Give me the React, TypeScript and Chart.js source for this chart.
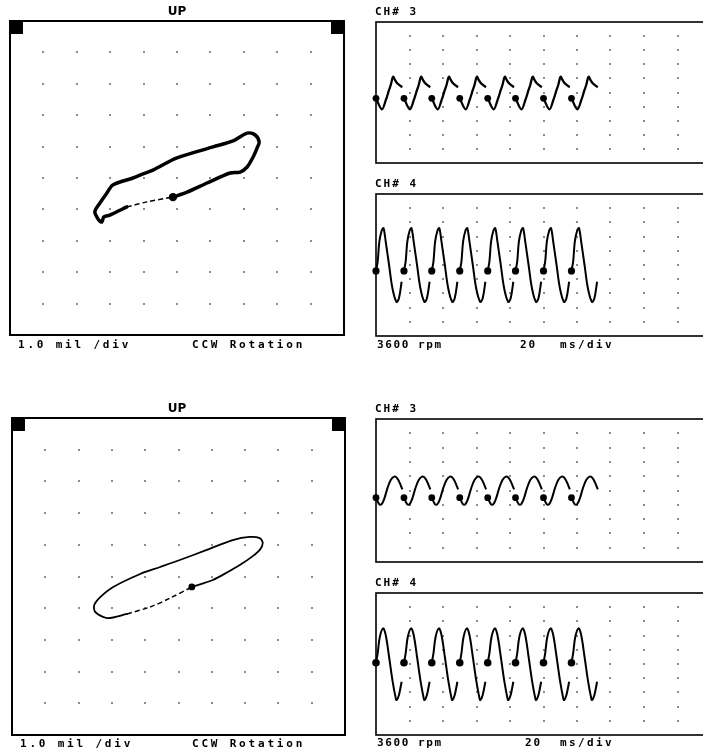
import React, { useEffect, useRef } from "react";
import { Chart, registerables } from "chart.js";

Chart.register(...registerables);

// ---- Acquisition setup ----
const SPEED_LABEL = "3600 rpm";
const TIMEBASE_LABEL = ["20", "ms/div"];
const ORBIT_SCALE_LABEL = "1.0 mil /div";
const ROTATION_LABEL = "CCW Rotation";
const PROBE_LABEL = "UP";
const CH_A_LABEL = "CH# 3";
const CH_B_LABEL = "CH# 4";

// Once-per-turn (keyphasor) marks, ms from trigger
const KEYPHASOR_MS = [0, 16.7, 33.3, 50.0, 66.7, 83.3, 100.0, 116.7];

// Graticule divisions
const ORBIT_GRID = [-4, -3, -2, -1, 0, 1, 2, 3, 4];
const AMP_GRID = [-4, -3, -2, -1, 0, 1, 2, 3, 4];
const TIME_GRID_MS = [20, 40, 60, 80, 100, 120, 140, 160, 180];

// ---- Upper set: orbit (mil), starting at the keyphasor, CCW ----
const ORBIT1_X = [-0.12, 0.3, 0.9, 1.59, 1.89, 2.1, 2.28, 2.4, 2.46, 2.34, 2.1, 1.68, 1.08, 0.0, -0.72, -1.02, -1.32, -1.92, -2.1, -2.31, -2.46, -2.34, -2.25, -2.19, -2.01, -1.5, -0.9, -0.3];
const ORBIT1_Y = [-0.61, -0.45, -0.16, 0.16, 0.19, 0.35, 0.67, 0.96, 1.15, 1.37, 1.43, 1.18, 0.99, 0.64, 0.25, 0.13, 0.0, -0.22, -0.48, -0.8, -1.08, -1.34, -1.4, -1.24, -1.18, -0.92, -0.76, -0.64];
const ORBIT1_BLANK_FROM = 25;

// Upper set: timebase, one revolution per keyphasor (ms after mark, divisions)
const WAVE1A_MS = [0, 3.5, 5.9, 7.8, 8.8, 10.2, 11.3, 12.7, 14.7, 15.7];
const WAVE1A_DIV = [-0.41, -1.19, -0.53, 0.18, 0.53, 1.12, 0.89, 0.65, 0.46, 0.37];
const WAVE1B_MS = [0, 1.0, 2.0, 3.5, 4.5, 5.8, 7.8, 9.8, 12.2, 13.7, 15.3];
const WAVE1B_DIV = [-0.42, 0.23, 1.64, 2.46, 2.6, 1.64, 0.0, -1.64, -2.6, -2.35, -1.18];

// ---- Lower set: orbit (mil) ----
const ORBIT2_X = [0.4, 1.03, 1.48, 1.84, 2.2, 2.44, 2.53, 2.44, 2.14, 1.63, 0.85, 0.04, -0.55, -1.15, -1.96, -2.35, -2.53, -2.5, -2.14, -1.54, -0.85, -0.25];
const ORBIT2_Y = [-0.33, -0.11, 0.14, 0.36, 0.62, 0.84, 1.06, 1.21, 1.25, 1.15, 0.84, 0.52, 0.3, 0.08, -0.33, -0.65, -0.9, -1.12, -1.31, -1.18, -0.96, -0.68];
const ORBIT2_BLANK_FROM = 19;

// Lower set: timebase
const WAVE2A_MS = [0, 2.0, 3.3, 5.0, 6.8, 8.8, 10.8, 12.7, 14.7, 15.7];
const WAVE2A_DIV = [-0.5, -0.97, -0.97, -0.55, 0.15, 0.73, 0.97, 0.85, 0.38, 0.08];
const WAVE2B_MS = [0, 1.0, 2.3, 4.3, 5.8, 7.8, 9.8, 11.8, 12.3, 13.7, 15.3];
const WAVE2B_DIV = [0.09, 0.75, 1.92, 2.51, 2.04, 0.51, -1.13, -2.42, -2.54, -2.18, -1.25];

type Pt = { x: number; y: number | null };
type Label = { text: string; x: number; y: number; align?: CanvasTextAlign; font?: string; spacing?: number };

const MONO = 'bold 11px "DejaVu Sans Mono"';

function orbitPaths(xs: number[], ys: number[], blankFrom: number) {
  const pts: Pt[] = xs.map((x, i) => ({ x, y: ys[i] }));
  const solid = pts.slice(0, blankFrom + 1);
  const blank = pts.slice(blankFrom).concat([pts[0]]);
  return { solid, blank, kp: [pts[0]] };
}

function traceFromRevs(revMs: number[], vals: number[]) {
  const line: Pt[] = [];
  const marks: Pt[] = [];
  KEYPHASOR_MS.forEach((t0) => {
    revMs.forEach((dt, i) => line.push({ x: t0 + dt, y: vals[i] }));
    line.push({ x: t0 + revMs[revMs.length - 1] + 0.2, y: null });
    marks.push({ x: t0, y: vals[0] });
  });
  return { line, marks };
}

function makeDecor(opts: {
  gridX: number[];
  gridY: number[];
  frameWidth: number;
  corner?: number;
  labels: Label[];
}) {
  return {
    id: "scopeDecor",
    beforeDatasetsDraw(chart: any) {
      const { ctx } = chart;
      const xs = chart.scales.x;
      const ys = chart.scales.y;
      ctx.save();
      ctx.fillStyle = "#333";
      for (const gx of opts.gridX) {
        for (const gy of opts.gridY) {
          const px = Math.round(xs.getPixelForValue(gx));
          const py = Math.round(ys.getPixelForValue(gy));
          ctx.fillRect(px - 0.75, py - 0.75, 1.5, 1.5);
        }
      }
      ctx.restore();
    },
    afterDatasetsDraw(chart: any) {
      const { ctx, chartArea: a } = chart;
      ctx.save();
      ctx.strokeStyle = "#000";
      ctx.lineWidth = opts.frameWidth;
      ctx.strokeRect(a.left, a.top, a.right - a.left, a.bottom - a.top);
      if (opts.corner) {
        const s = opts.corner;
        ctx.fillStyle = "#000";
        ctx.fillRect(a.left, a.top, s, s);
        ctx.fillRect(a.right - s, a.top, s, s);
      }
      ctx.restore();
    },
    afterDraw(chart: any) {
      const { ctx } = chart;
      ctx.save();
      ctx.fillStyle = "#000";
      ctx.textBaseline = "middle";
      for (const l of opts.labels) {
        ctx.font = l.font || MONO;
        (ctx as any).letterSpacing = (l.spacing ?? 2.8) + "px";
        ctx.textAlign = l.align || "left";
        ctx.fillText(l.text, l.x, l.y);
      }
      ctx.restore();
    },
  };
}

function baseOptions(padding: any, xr: [number, number], yr: [number, number]) {
  return {
    responsive: false,
    animation: false as const,
    devicePixelRatio: 1,
    layout: { padding },
    events: [],
    plugins: { legend: { display: false }, tooltip: { enabled: false }, title: { display: false } },
    scales: {
      x: { type: "linear" as const, min: xr[0], max: xr[1], display: false },
      y: { type: "linear" as const, min: yr[0], max: yr[1], display: false },
    },
  };
}

function orbitConfig(xs: number[], ys: number[], blankFrom: number, thick: number, kpR: number, padding: any, labels: Label[]) {
  const p = orbitPaths(xs, ys, blankFrom);
  return {
    type: "scatter" as const,
    data: {
      datasets: [
        { data: p.solid, showLine: true, borderColor: "#000", borderWidth: thick, pointRadius: 0, tension: 0.3, borderJoinStyle: "round", borderCapStyle: "round" },
        { data: p.blank, showLine: true, borderColor: "#000", borderWidth: 1.5, borderDash: [5, 3], pointRadius: 0, tension: 0.3 },
        { data: p.kp, showLine: false, pointRadius: kpR, pointBackgroundColor: "#000", pointBorderWidth: 0, clip: false },
      ],
    },
    options: baseOptions(padding, [-5, 5], [-5, 5]),
    plugins: [makeDecor({ gridX: ORBIT_GRID, gridY: ORBIT_GRID, frameWidth: 2, corner: 13, labels })],
  };
}

function waveConfig(revMs: number[], vals: number[], width: number, kpR: number, padding: any, labels: Label[]) {
  const t = traceFromRevs(revMs, vals);
  return {
    type: "line" as const,
    data: {
      datasets: [
        { data: t.line, borderColor: "#000", borderWidth: width, pointRadius: 0, tension: 0.35, spanGaps: false, borderJoinStyle: "round" },
        { data: t.marks, showLine: false, pointRadius: kpR, pointBackgroundColor: "#000", pointBorderWidth: 0, clip: false },
      ],
    },
    options: baseOptions(padding, [0, 200], [-5, 5]),
    plugins: [makeDecor({ gridX: TIME_GRID_MS, gridY: AMP_GRID, frameWidth: 1.6, labels })],
  };
}

function Panel({ left, top, width, height, make }: { left: number; top: number; width: number; height: number; make: () => any }) {
  const ref = useRef<HTMLCanvasElement>(null);
  useEffect(() => {
    const chart = new Chart(ref.current as HTMLCanvasElement, make());
    return () => chart.destroy();
  }, []);
  return (
    <canvas
      ref={ref}
      width={width}
      height={height}
      style={{ position: "absolute", left, top, width, height, display: "block" }}
    />
  );
}

const TITLE_FONT = 'bold 12px "DejaVu Sans"';

export default function App() {
  return (
    <div
      style={{
        position: "fixed",
        left: 0,
        top: 0,
        width: 703,
        height: 754,
        overflow: "hidden",
        background: "#fff",
      }}
    >
      {/* upper orbit */}
      <Panel
        left={0}
        top={0}
        width={356}
        height={356}
        make={() =>
          orbitConfig(ORBIT1_X, ORBIT1_Y, ORBIT1_BLANK_FROM, 3.5, 4.2, { left: 10, top: 21, right: 12, bottom: 21 }, [
            { text: PROBE_LABEL, x: 177, y: 12, align: "center", font: TITLE_FONT, spacing: 0 },
            { text: ORBIT_SCALE_LABEL, x: 18, y: 345 },
            { text: ROTATION_LABEL, x: 192, y: 345 },
          ])
        }
      />
      {/* upper timebase, channel 3 */}
      <Panel
        left={360}
        top={0}
        width={360}
        height={174}
        make={() =>
          waveConfig(WAVE1A_MS, WAVE1A_DIV, 2.3, 3.4, { left: 16, top: 22, right: 9, bottom: 11 }, [
            { text: CH_A_LABEL, x: 15, y: 12, spacing: 2 },
          ])
        }
      />
      {/* upper timebase, channel 4 */}
      <Panel
        left={360}
        top={174}
        width={360}
        height={182}
        make={() =>
          waveConfig(WAVE1B_MS, WAVE1B_DIV, 2, 3.6, { left: 16, top: 20, right: 9, bottom: 20 }, [
            { text: CH_B_LABEL, x: 15, y: 10, spacing: 2 },
            { text: SPEED_LABEL, x: 17, y: 171, spacing: 1.6 },
            { text: TIMEBASE_LABEL[0], x: 160, y: 171, spacing: 2 },
            { text: TIMEBASE_LABEL[1], x: 200, y: 171, spacing: 2.4 },
          ])
        }
      />
      {/* lower orbit */}
      <Panel
        left={0}
        top={396}
        width={356}
        height={358}
        make={() =>
          orbitConfig(ORBIT2_X, ORBIT2_Y, ORBIT2_BLANK_FROM, 1.8, 3.4, { left: 12, top: 22, right: 11, bottom: 19 }, [
            { text: PROBE_LABEL, x: 177, y: 13, align: "center", font: TITLE_FONT, spacing: 0 },
            { text: ORBIT_SCALE_LABEL, x: 20, y: 348 },
            { text: ROTATION_LABEL, x: 192, y: 348 },
          ])
        }
      />
      {/* lower timebase, channel 3 */}
      <Panel
        left={360}
        top={396}
        width={360}
        height={178}
        make={() =>
          waveConfig(WAVE2A_MS, WAVE2A_DIV, 2, 3.4, { left: 16, top: 23, right: 9, bottom: 12 }, [
            { text: CH_A_LABEL, x: 15, y: 13, spacing: 2 },
          ])
        }
      />
      {/* lower timebase, channel 4 */}
      <Panel
        left={360}
        top={574}
        width={360}
        height={180}
        make={() =>
          waveConfig(WAVE2B_MS, WAVE2B_DIV, 2, 3.8, { left: 16, top: 19, right: 9, bottom: 19 }, [
            { text: CH_B_LABEL, x: 15, y: 9, spacing: 2 },
            { text: SPEED_LABEL, x: 17, y: 169, spacing: 1.6 },
            { text: TIMEBASE_LABEL[0], x: 165, y: 169, spacing: 2 },
            { text: TIMEBASE_LABEL[1], x: 200, y: 169, spacing: 2.4 },
          ])
        }
      />
    </div>
  );
}
